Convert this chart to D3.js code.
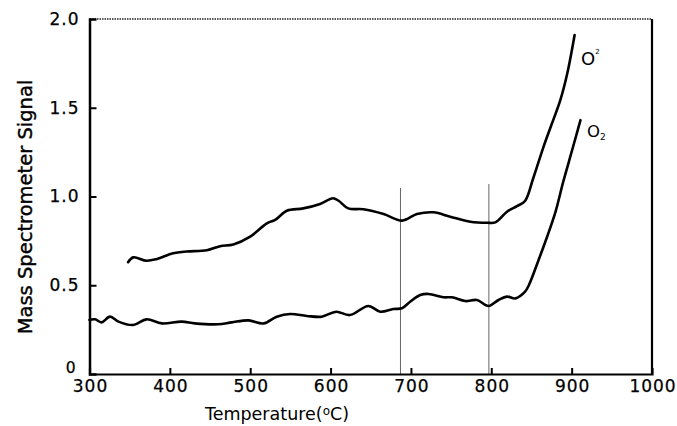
<!DOCTYPE html>
<html><head><meta charset="utf-8">
<script src="https://cdn.jsdelivr.net/npm/d3@7"></script>
<style>body{margin:0;background:#fff}svg{display:block}</style>
</head><body><svg id="c" width="677" height="426"></svg>
<script>
const xTicks = [300,400,500,600,700,800,900,1000];
const yTicks = [0,0.5,1.0,1.5,2.0];
const yTickLabels = ["0","0.5","1.0","1.5","2.0"];
const upperT = [348,354.5,371,384,404,421,446,462.5,479,500,520.7,531,545.6,566,587,603,610,622,641,666,689,707.5,728,749,774,795,805,819.5,832,842,852,865,874,886,894.6,903.7];
const upperV = [0.63,0.657,0.638,0.648,0.68,0.69,0.697,0.72,0.73,0.774,0.849,0.868,0.92,0.933,0.958,0.99,0.976,0.933,0.928,0.901,0.864,0.901,0.911,0.886,0.858,0.852,0.854,0.914,0.946,0.975,1.10,1.28,1.393,1.544,1.694,1.91];
const lowerT = [300,306.8,315,325.5,336,354.5,371,390,414.8,431,460,477,497.8,516.5,533,549.7,570.5,589,607,624,647,661.8,678,688.8,699,711.6,722,740.6,751,767.6,782,796.6,809,819.5,830,842,847,859,869.7,880,889,896,903,911];
const lowerV = [0.305,0.308,0.291,0.323,0.295,0.276,0.308,0.285,0.295,0.285,0.28,0.291,0.302,0.285,0.323,0.338,0.327,0.323,0.351,0.332,0.383,0.351,0.366,0.37,0.407,0.445,0.451,0.432,0.432,0.411,0.417,0.383,0.417,0.436,0.426,0.464,0.503,0.644,0.776,0.915,1.074,1.187,1.30,1.43];
const vlineT = [687,797];
const vlineTop = [1.048,1.07];
const seriesLabels = ["O","O"];

const svg = d3.select("#c");
const L=89.5,R=652,T=19,B=374;
const x = d3.scaleLinear().domain([300,1000]).range([L,R]);
const y = d3.scaleLinear().domain([0,2]).range([B,T]);
const font = "'DejaVu Sans', sans-serif";

// frame
svg.append("line").attr("x1",L).attr("x2",R).attr("y1",T).attr("y2",T)
  .attr("stroke","#222").attr("stroke-width",1.5).attr("stroke-dasharray","1.5,1");
svg.append("line").attr("x1",R).attr("x2",R).attr("y1",T).attr("y2",B)
  .attr("stroke","#000").attr("stroke-width",2.2);

// vertical reference lines
vlineT.forEach((t,i)=>{
  svg.append("line").attr("x1",x(t)).attr("x2",x(t)).attr("y1",y(vlineTop[i])).attr("y2",B)
    .attr("stroke","#666").attr("stroke-width",1);
});

// axes
const xAxis = d3.axisBottom(x).tickValues(xTicks).tickSize(-6).tickPadding(9).tickFormat(d3.format("d"));
const gx = svg.append("g").attr("transform",`translate(0,${B})`).call(xAxis);
gx.select(".domain").attr("stroke","#000").attr("stroke-width",2.2);
gx.selectAll(".tick line").attr("stroke","#000").attr("stroke-width",2)
  .filter(d=>d===300||d===1000).remove();
gx.selectAll(".tick text").attr("font-family",font).attr("font-size",17).attr("letter-spacing",1)
  .attr("fill","#000").attr("dy","0.55em").attr("dx",0.5).attr("stroke","#000").attr("stroke-width",0.25);

const yAxis = d3.axisLeft(y).tickValues(yTicks).tickSize(-7).tickPadding(10)
  .tickFormat((d,i)=>yTickLabels[i]);
const gy = svg.append("g").attr("transform",`translate(${L},0)`).call(yAxis);
gy.select(".domain").attr("stroke","#000").attr("stroke-width",2.5);
gy.selectAll(".tick line").attr("stroke","#000").attr("stroke-width",2)
  .filter(d=>d===0||d===2).remove();
gy.selectAll(".tick text").attr("font-family",font).attr("font-size",17).attr("letter-spacing",1)
  .attr("fill","#000").attr("stroke","#000").attr("stroke-width",0.25);
gy.selectAll(".tick").filter(d=>d===0).select("text").attr("dy","-0.1em").attr("dx",-3).attr("font-size",15.5);

// curves
const line = d3.line().x(d=>x(d[0])).y(d=>y(d[1])).curve(d3.curveCatmullRom.alpha(0.5));
svg.append("path").attr("d",line(upperT.map((t,i)=>[t,upperV[i]])))
  .attr("fill","none").attr("stroke","#000").attr("stroke-width",2.6).attr("stroke-linecap","round");
svg.append("path").attr("d",line(lowerT.map((t,i)=>[t,lowerV[i]])))
  .attr("fill","none").attr("stroke","#000").attr("stroke-width",2.6).attr("stroke-linecap","round");

// series labels
const t1 = svg.append("text").attr("x",581).attr("y",65).attr("font-family",font).attr("font-size",18).attr("fill","#000");
t1.append("tspan").text(seriesLabels[0]);
t1.append("tspan").attr("dy",-11).attr("font-size",7).text("2");
const t2 = svg.append("text").attr("x",587).attr("y",137).attr("font-family",font).attr("font-size",16.5).attr("fill","#000");
t2.append("tspan").text(seriesLabels[1]);
t2.append("tspan").attr("dy",3).attr("font-size",9).text("2");

// axis titles
const xt = svg.append("text").attr("x",277).attr("y",420).attr("text-anchor","middle")
  .attr("font-family",font).attr("font-size",17.5).attr("fill","#000");
xt.append("tspan").text("Temperature(");
xt.append("tspan").attr("font-size",12).attr("dy",-5).text("o");
xt.append("tspan").attr("dy",5).text("C)");
svg.append("text").attr("transform","translate(32,207) rotate(-90)").attr("text-anchor","middle")
  .attr("font-family",font).attr("font-size",19.5).attr("stroke","#000").attr("stroke-width",0.4).attr("fill","#000")
  .text("Mass Spectrometer Signal");
</script></body></html>
